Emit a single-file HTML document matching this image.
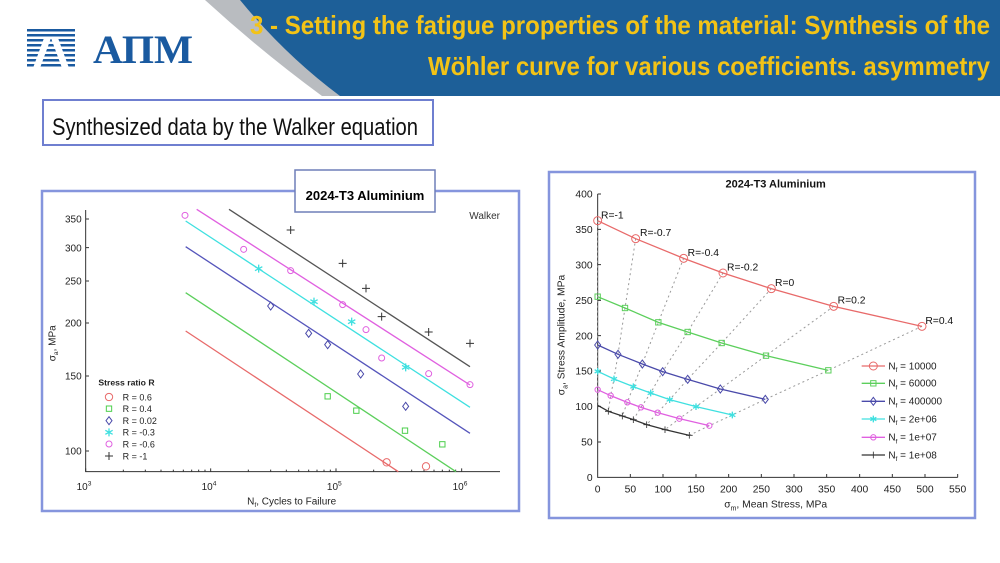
<!DOCTYPE html>
<html><head><meta charset="utf-8"><style>
html,body{margin:0;padding:0;background:#fff;width:1000px;height:563px;overflow:hidden}
svg{display:block;font-family:"Liberation Sans",sans-serif}
</style></head><body>
<svg width="1000" height="563" viewBox="0 0 1000 563" xmlns="http://www.w3.org/2000/svg">
<!-- header -->
<path d="M205 0 L250 0 Q300 62 345 96 L322 96 Q262 52 205 0Z" fill="#b9bcc0"/>
<path d="M240 0 L1000 0 L1000 96 L340 96 Q285 55 240 0Z" fill="#1d5f98"/>
<g fill="#f3c316" font-weight="bold" font-family="'Liberation Sans Narrow','Liberation Sans',sans-serif">
<text x="250" y="34" font-size="26" textLength="740" lengthAdjust="spacingAndGlyphs">3 - Setting the fatigue properties of the material: Synthesis of the</text>
<text x="428" y="75" font-size="26" textLength="562" lengthAdjust="spacingAndGlyphs">Wöhler curve for various coefficients. asymmetry</text>
</g>
<!-- logo -->
<g fill="#1a5aa0">
<rect x="27" y="29" width="48" height="2.5"/><rect x="27" y="34" width="48" height="2.5"/><rect x="27" y="39" width="48" height="2.5"/>
<rect x="27" y="44" width="48" height="2.5"/><rect x="27" y="49" width="48" height="2.5"/><rect x="27" y="54" width="48" height="2.5"/>
<rect x="27" y="59" width="48" height="2.5"/><rect x="27" y="64" width="48" height="2.5"/>
<path d="M44 38 L51 38 L40 68 L33 68Z M58 38 L51 38 L62 68 L69 68Z" fill="#fff"/>
<text x="93" y="63" font-family="'Liberation Serif',serif" font-weight="bold" font-size="40" textLength="100" lengthAdjust="spacingAndGlyphs">АПМ</text>
</g>
<!-- subtitle box -->
<rect x="43" y="100" width="390" height="45" fill="#fff" stroke="#6f7fd0" stroke-width="2"/>
<text x="52" y="135" font-size="24" font-family="'Liberation Sans Narrow','Liberation Sans',sans-serif" textLength="366" lengthAdjust="spacingAndGlyphs" fill="#111">Synthesized data by the Walker equation</text>

<!-- LEFT CHART -->
<rect x="42" y="191" width="477" height="320" fill="#fff" stroke="#8595dd" stroke-width="2.5"/>
<rect x="295" y="170" width="140" height="42" fill="#fff" stroke="#6f7fb8" stroke-width="1.5"/>
<text x="365" y="200" font-size="13" font-weight="bold" text-anchor="middle">2024-T3 Aluminium</text>
<g transform="translate(40,170) scale(0.33333)">
<path d="M137 120 V905 H1380" fill="none" stroke="#333" vector-effect="non-scaling-stroke"/>
<g stroke="#333" stroke-width="1">
<path d="M137 147h10M137 233h10M137 333h10M137 459h10M137 618h10M137 843h10" vector-effect="non-scaling-stroke"/>
<path d="M137 905v-10M250 905v-6M316 905v-6M363 905v-6M400 905v-6M430 905v-6M455 905v-6M476 905v-6M495 905v-6M512 905v-10M625 905v-6M692 905v-6M739 905v-6M776 905v-6M806 905v-6M831 905v-6M852 905v-6M871 905v-6M888 905v-10M1001 905v-6M1068 905v-6M1115 905v-6M1152 905v-6M1182 905v-6M1207 905v-6M1228 905v-6M1247 905v-6M1265 905v-10" vector-effect="non-scaling-stroke"/>
</g>
<g font-size="30" fill="#222" text-anchor="end">
<text x="125" y="158">350</text><text x="125" y="244">300</text><text x="125" y="344">250</text><text x="125" y="470">200</text><text x="125" y="629">150</text><text x="125" y="854">100</text>
</g>
<g font-size="30" fill="#222" text-anchor="middle">
<text x="132" y="960">10<tspan font-size="20" dy="-14">3</tspan></text>
<text x="507" y="960">10<tspan font-size="20" dy="-14">4</tspan></text>
<text x="883" y="960">10<tspan font-size="20" dy="-14">5</tspan></text>
<text x="1260" y="960">10<tspan font-size="20" dy="-14">6</tspan></text>
<text x="755" y="1003">N<tspan font-size="20" dy="8">f</tspan><tspan dy="-8">, Cycles to Failure</tspan></text>
</g>
<text transform="translate(46,520) rotate(-90)" font-size="30" fill="#222" text-anchor="middle">σ<tspan font-size="20" dy="8">a</tspan><tspan dy="-8">, MPa</tspan></text>
<text x="1380" y="147" font-size="30" fill="#333" text-anchor="end">Walker</text>
<g stroke-width="1.3" fill="none">
<line x1="437" y1="483" x2="1075" y2="905" stroke="#e86a6a" vector-effect="non-scaling-stroke"/>
<line x1="437" y1="368" x2="1248" y2="905" stroke="#5ccf5c" vector-effect="non-scaling-stroke"/>
<line x1="437" y1="230" x2="1290" y2="790" stroke="#5555bb" vector-effect="non-scaling-stroke"/>
<line x1="437" y1="153" x2="1290" y2="712" stroke="#3fe0e0" vector-effect="non-scaling-stroke"/>
<line x1="470" y1="118" x2="1290" y2="645" stroke="#e060e0" vector-effect="non-scaling-stroke"/>
<line x1="567" y1="118" x2="1290" y2="590" stroke="#555" vector-effect="non-scaling-stroke"/>
</g>
<g fill="none" stroke="#e86a6a" stroke-width="3">
<circle cx="1040" cy="877" r="11"/><circle cx="1158" cy="889" r="11"/><circle cx="207" cy="681" r="11"/>
</g>
<g fill="none" stroke="#4ccf4c" stroke-width="3">
<rect x="855" y="671" width="16" height="16"/><rect x="941" y="714" width="16" height="16"/><rect x="1087" y="774" width="16" height="16"/><rect x="1199" y="815" width="16" height="16"/><rect x="199" y="708" width="16" height="16"/>
</g>
<g fill="none" stroke="#4a4aaa" stroke-width="3">
<path d="M692 396l9 12-9 12-9-12z M806 478l9 12-9 12-9-12z M863 512l9 12-9 12-9-12z M962 600l9 12-9 12-9-12z M1097 697l9 12-9 12-9-12z M207 740l9 12-9 12-9-12z"/>
</g>
<g fill="none" stroke="#40e0e0" stroke-width="4">
<path d="M656 284v24M645 290l22 12M645 302l22-12 M822 383v24M811 389l22 12M811 401l22-12 M935 443v24M924 449l22 12M924 461l22-12 M1097 580v24M1086 586l22 12M1086 598l22-12 M207 775v24M196 781l22 12M196 793l22-12"/>
</g>
<g fill="none" stroke="#e060e0" stroke-width="3">
<circle cx="435" cy="136" r="9"/><circle cx="611" cy="238" r="9"/><circle cx="752" cy="302" r="9"/><circle cx="908" cy="404" r="9"/><circle cx="978" cy="479" r="9"/><circle cx="1025" cy="564" r="9"/><circle cx="1166" cy="611" r="9"/><circle cx="1290" cy="644" r="9"/><circle cx="207" cy="822" r="9"/>
</g>
<g stroke="#333" stroke-width="3">
<path d="M752 168v24M740 180h24 M908 268v24M896 280h24 M978 343v24M966 355h24 M1025 428v24M1013 440h24 M1166 474v24M1154 486h24 M1290 508v24M1278 520h24 M207 846v24M195 858h24"/>
</g>
<text x="175" y="647" font-size="26" font-weight="bold" fill="#222">Stress ratio R</text>
<g font-size="27" fill="#222">
<text x="248" y="691">R = 0.6</text><text x="248" y="726">R = 0.4</text><text x="248" y="762">R = 0.02</text><text x="248" y="797">R = -0.3</text><text x="248" y="832">R = -0.6</text><text x="248" y="868">R = -1</text>
</g>
</g>

<!-- RIGHT CHART -->
<rect x="549" y="172" width="426" height="346" fill="#fff" stroke="#8595dd" stroke-width="2.5"/>
<g transform="translate(545,170) scale(0.33333)">
<text x="692" y="52" font-size="33" font-weight="bold" text-anchor="middle" fill="#111">2024-T3 Aluminium</text>
<path d="M158 72 V922 H1238" fill="none" stroke="#333" vector-effect="non-scaling-stroke"/>
<path d="M158 72h10M158 178h10M158 284h10M158 391h10M158 497h10M158 603h10M158 709h10M158 816h10 M256 922v-10M354 922v-10M453 922v-10M551 922v-10M649 922v-10M747 922v-10M845 922v-10M944 922v-10M1042 922v-10M1140 922v-10M1238 922v-10" stroke="#333" vector-effect="non-scaling-stroke"/>
<g font-size="31" fill="#222" text-anchor="end">
<text x="143" y="83">400</text><text x="143" y="189">350</text><text x="143" y="295">300</text><text x="143" y="402">250</text><text x="143" y="508">200</text><text x="143" y="614">150</text><text x="143" y="720">100</text><text x="143" y="827">50</text><text x="143" y="933">0</text>
</g>
<g font-size="31" fill="#222" text-anchor="middle">
<text x="158" y="968">0</text><text x="256" y="968">50</text><text x="354" y="968">100</text><text x="453" y="968">150</text><text x="551" y="968">200</text><text x="649" y="968">250</text><text x="747" y="968">300</text><text x="845" y="968">350</text><text x="944" y="968">400</text><text x="1042" y="968">450</text><text x="1140" y="968">500</text><text x="1238" y="968">550</text>
<text x="692" y="1012">σ<tspan font-size="21" dy="9">m</tspan><tspan dy="-9">, Mean Stress, MPa</tspan></text>
</g>
<text transform="translate(58,495) rotate(-90)" font-size="31" fill="#222" text-anchor="middle">σ<tspan font-size="21" dy="9">a</tspan><tspan dy="-9">, Stress Amplitude, MPa</tspan></text>
<g fill="none" stroke="#999" stroke-dasharray="2 3" stroke-width="1" >
<polyline vector-effect="non-scaling-stroke" points="158,152 158,380 158,525 158,604 158,659 158,706"/>
<polyline vector-effect="non-scaling-stroke" points="272,206 240,414 219,553 207,627 197,677 190,724"/>
<polyline vector-effect="non-scaling-stroke" points="416,265 340,457 292,582 265,650 247,697 232,738"/>
<polyline vector-effect="non-scaling-stroke" points="534,309 428,486 353,605 317,669 288,712 265,749"/>
<polyline vector-effect="non-scaling-stroke" points="679,356 530,519 428,628 374,689 338,728 305,764"/>
<polyline vector-effect="non-scaling-stroke" points="866,409 663,557 526,657 453,710 403,746 360,779"/>
<polyline vector-effect="non-scaling-stroke" points="1131,469 850,601 661,688 562,735 493,767 433,796"/>
</g>
<g fill="none" stroke-width="1.3">
<polyline vector-effect="non-scaling-stroke" stroke="#e86a6a" points="158,152 272,206 416,265 534,309 679,356 866,409 1131,469"/>
<polyline vector-effect="non-scaling-stroke" stroke="#5ccf5c" points="158,380 240,414 340,457 428,486 530,519 663,557 850,601"/>
<polyline vector-effect="non-scaling-stroke" stroke="#4a4aaa" points="158,525 219,553 292,582 353,605 428,628 526,657 661,688"/>
<polyline vector-effect="non-scaling-stroke" stroke="#40e0e0" points="158,604 207,627 265,650 317,669 374,689 453,710 562,735"/>
<polyline vector-effect="non-scaling-stroke" stroke="#e060e0" points="158,659 197,677 247,697 288,712 338,728 403,746 493,767"/>
<polyline vector-effect="non-scaling-stroke" stroke="#333" points="158,706 190,724 232,738 265,749 305,764 360,779 433,796"/>
</g>
<g fill="none" stroke="#e86a6a" stroke-width="3">
<circle cx="158" cy="152" r="12"/><circle cx="272" cy="206" r="12"/><circle cx="416" cy="265" r="12"/><circle cx="534" cy="309" r="12"/><circle cx="679" cy="356" r="12"/><circle cx="866" cy="409" r="12"/><circle cx="1131" cy="469" r="12"/><circle cx="985" cy="588" r="12"/>
</g>
<g fill="none" stroke="#5ccf5c" stroke-width="3">
<rect x="150" y="372" width="16" height="16"/><rect x="232" y="406" width="16" height="16"/><rect x="332" y="449" width="16" height="16"/><rect x="420" y="478" width="16" height="16"/><rect x="522" y="511" width="16" height="16"/><rect x="655" y="549" width="16" height="16"/><rect x="842" y="593" width="16" height="16"/><rect x="977" y="632" width="16" height="16"/>
</g>
<g fill="none" stroke="#4a4aaa" stroke-width="3">
<path d="M158 513l9 12-9 12-9-12z M219 541l9 12-9 12-9-12z M292 570l9 12-9 12-9-12z M353 593l9 12-9 12-9-12z M428 616l9 12-9 12-9-12z M526 645l9 12-9 12-9-12z M661 676l9 12-9 12-9-12z M985 682l9 12-9 12-9-12z"/>
</g>
<g fill="none" stroke="#40e0e0" stroke-width="4">
<path d="M158 594v20M149 599l18 10M149 609l18-10 M207 617v20M198 622l18 10M198 632l18-10 M265 640v20M256 645l18 10M256 655l18-10 M317 659v20M308 664l18 10M308 674l18-10 M374 679v20M365 684l18 10M365 694l18-10 M453 700v20M444 705l18 10M444 715l18-10 M562 725v20M553 730l18 10M553 740l18-10 M985 737v20M976 742l18 10M976 752l18-10"/>
</g>
<g fill="none" stroke="#e060e0" stroke-width="3">
<circle cx="158" cy="659" r="8"/><circle cx="197" cy="677" r="8"/><circle cx="247" cy="697" r="8"/><circle cx="288" cy="712" r="8"/><circle cx="338" cy="728" r="8"/><circle cx="403" cy="746" r="8"/><circle cx="493" cy="767" r="8"/><circle cx="985" cy="802" r="8"/>
</g>
<g stroke="#333" stroke-width="2.5">
<path d="M190 714v20M180 724h20 M232 728v20M222 738h20 M265 739v20M255 749h20 M305 754v20M295 764h20 M360 769v20M350 779h20 M433 786v20M423 796h20 M985 845v20M975 855h20"/>
</g>
<g stroke-width="1.3">
<line x1="950" y1="588" x2="1020" y2="588" stroke="#e86a6a" vector-effect="non-scaling-stroke"/>
<line x1="950" y1="640" x2="1020" y2="640" stroke="#5ccf5c" vector-effect="non-scaling-stroke"/>
<line x1="950" y1="694" x2="1020" y2="694" stroke="#4a4aaa" vector-effect="non-scaling-stroke"/>
<line x1="950" y1="747" x2="1020" y2="747" stroke="#40e0e0" vector-effect="non-scaling-stroke"/>
<line x1="950" y1="802" x2="1020" y2="802" stroke="#e060e0" vector-effect="non-scaling-stroke"/>
<line x1="950" y1="855" x2="1020" y2="855" stroke="#333" vector-effect="non-scaling-stroke"/>
</g>
<g font-size="30" fill="#222">
<text x="1030" y="598">N<tspan font-size="20" dy="8">f</tspan><tspan dy="-8"> = 10000</tspan></text>
<text x="1030" y="650">N<tspan font-size="20" dy="8">f</tspan><tspan dy="-8"> = 60000</tspan></text>
<text x="1030" y="704">N<tspan font-size="20" dy="8">f</tspan><tspan dy="-8"> = 400000</tspan></text>
<text x="1030" y="757">N<tspan font-size="20" dy="8">f</tspan><tspan dy="-8"> = 2e+06</tspan></text>
<text x="1030" y="812">N<tspan font-size="20" dy="8">f</tspan><tspan dy="-8"> = 1e+07</tspan></text>
<text x="1030" y="865">N<tspan font-size="20" dy="8">f</tspan><tspan dy="-8"> = 1e+08</tspan></text>
</g>
<g font-size="31" fill="#111">
<text x="168" y="145">R=-1</text><text x="285" y="198">R=-0.7</text><text x="428" y="258">R=-0.4</text><text x="546" y="301">R=-0.2</text><text x="690" y="348">R=0</text><text x="878" y="401">R=0.2</text><text x="1141" y="462">R=0.4</text>
</g>
</g>
</svg>
</body></html>
